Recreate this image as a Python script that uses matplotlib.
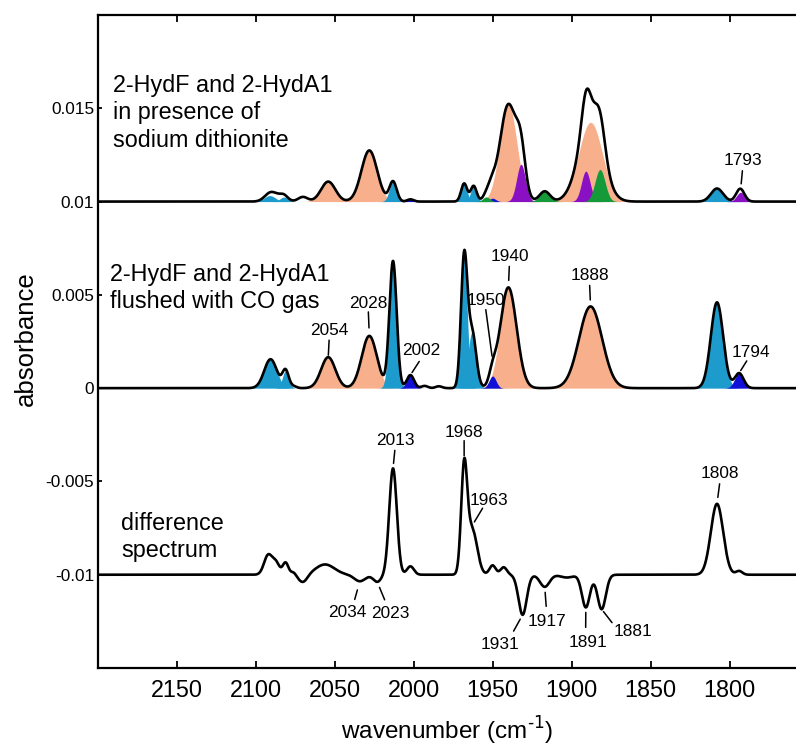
import numpy as np
import matplotlib
matplotlib.use("Agg")
import matplotlib.pyplot as plt

plt.rcParams['font.family'] = ['Liberation Sans', 'DejaVu Sans']

# band parameters: (centre cm-1, height, sigma cm-1)
top_orange = [(2054, 1.07e-3, 4.5), (2028, 2.74e-3, 5.0), (1940, 5.2e-3, 5.4), (1888, 4.25e-3, 7.5)]
top_cyan = [(2091, 0.32e-3, 3.5), (2082, 0.24e-3, 2.5), (2013, 1.07e-3, 2.3),
            (1968, 0.97e-3, 1.9), (1962, 0.84e-3, 1.9), (1808, 0.70e-3, 3.8)]
top_blue = [(2002, 0.12e-3, 2.0), (1950, 0.18e-3, 2.0), (1794, 0.20e-3, 2.5)]
top_purple = [(1932, 2.0e-3, 2.8), (1891, 1.63e-3, 2.8), (1793, 0.50e-3, 2.6)]
top_green = [(1954, 0.25e-3, 2.2), (1917, 0.55e-3, 3.3), (1882, 1.72e-3, 3.2)]
top_other = [(2087, 0.26e-3, 4.5), (2070, 0.25e-3, 3.0), (1951, 0.40e-3, 2.5), (1890, 0.35e-3, 3.0)]

mid_orange = [(2054, 1.66e-3, 4.5), (2028, 2.8e-3, 4.8), (1940, 5.4e-3, 5.2), (1888, 4.38e-3, 7.3)]
mid_cyan = [(2090.5, 1.55e-3, 4.0), (2081, 0.93e-3, 2.0), (2013, 6.8e-3, 2.3),
            (1968, 6.9e-3, 2.0), (1963, 3.0e-3, 2.6), (1808, 4.6e-3, 3.9)]
mid_blue = [(2002, 0.70e-3, 2.3), (1950, 0.65e-3, 2.2), (1794, 0.80e-3, 2.8)]
mid_other = [(2076, 0.10e-3, 2.0), (1993, 0.12e-3, 2.0), (1984, 0.10e-3, 2.0)]

diff_bands = [(2092, 1.05e-3, 2.6), (2087, 0.6e-3, 2.2), (2081, 0.65e-3, 1.8), (2076, 0.15e-3, 1.5),
              (2070, -0.42e-3, 2.8), (2056, 0.55e-3, 6.0), (2034, -0.35e-3, 3.5), (2023, -0.38e-3, 2.5),
              (2013, 5.7e-3, 2.4), (2002, 0.45e-3, 2.2), (1968, 5.5e-3, 1.9), (1963, 2.45e-3, 3.2),
              (1950, 0.5e-3, 2.0), (1943, 0.4e-3, 2.0), (1931, -2.15e-3, 2.6), (1917, -0.65e-3, 3.0),
              (1903, -0.15e-3, 4.0), (1891, -1.75e-3, 2.5), (1881, -1.85e-3, 2.6), (1808, 3.8e-3, 3.9),
              (1794, 0.2e-3, 2.0)]

offsets = [0.01, 0.0, -0.01]

yticks = [0.015, 0.01, 0.005, 0, -0.005, -0.01]
ytick_labels = ['0.015', '0.01', '0.005', '0', '-0.005', '-0.01']
xticks = [2150, 2100, 2050, 2000, 1950, 1900, 1850, 1800]

# peak labels: (wavenumber, dx px, dy px, gap at peak px, gap at text px, line anchor on text)
top_labels = [(1793, 2, 21, 5, 3, 0.5)]
mid_labels = [(2054, 1, 19, 2, 2, 0.5), (2028, -1, 25, 8, 1, 0.5), (2002, 11, 17, 3, 4, 0.5),
              (1950, -7, 52, 4, 1.5, 0.5), (1940, 1, 23, 7, 2, 0.5), (1888, -1, 23, 6.5, 2, 0.5),
              (1794, 12, 13, 3, 1, 0.4)]
diff_labels = [(2013, 2, 20, 5, 2, 0.5), (1968, 0, 19, 3, 1, 0.5), (1963, 17, 18, 4.5, 0.5, 0.34),
               (1808, 3, 23, 6.5, 3, 0.5),
               (2034, -12.5, -24, 9, 6, 0.65), (2023, 13, -24, 6, 6.5, 0.42), (1931, -23, -22, 5, 6.5, 0.78),
               (1917, 2, -27, 5.5, 7.5, 0.5), (1891, 2.5, -28, 5, 8, 0.43), (1881, 31, -15, 3, 2, 0.0)]

colors = {'orange': '#f8b08c', 'cyan': '#1e9bcd', 'blue': '#1010d8',
          'purple': '#8a10c4', 'green': '#159a3a'}

wn = np.linspace(2200, 1757, 3000)


def band(c, h, s):
    return h * np.exp(-0.5 * ((wn - c) / s) ** 2)


def total(*groups):
    y = np.zeros_like(wn)
    for g in groups:
        for c, h, s in g:
            y += band(c, h, s)
    return y


fig = plt.figure(figsize=(7.96, 7.51), dpi=100)
ax = fig.add_axes([97.5 / 796, 83 / 751, 1 - 97.5 / 796 + 0.002, 653 / 751])

top_fills = [('orange', top_orange), ('cyan', top_cyan), ('blue', top_blue),
             ('purple', top_purple), ('green', top_green)]
mid_fills = [('orange', mid_orange), ('cyan', mid_cyan), ('blue', mid_blue)]

for off, fills in [(offsets[0], top_fills), (offsets[1], mid_fills)]:
    for name, group in fills:
        for c, h, s in group:
            ax.fill_between(wn, off, off + band(c, h, s), color=colors[name], lw=0)

top_curve = offsets[0] + total(top_orange, top_cyan, top_blue, top_purple, top_green, top_other)
mid_curve = offsets[1] + total(mid_orange, mid_cyan, mid_blue, mid_other)
diff_curve = offsets[2] + total(diff_bands)

for curve in (top_curve, mid_curve, diff_curve):
    ax.plot(wn, curve, color='black', lw=1.9, solid_joinstyle='round')

for curve, labels in [(top_curve, top_labels), (mid_curve, mid_labels), (diff_curve, diff_labels)]:
    for w, dx, dy, gap_peak, gap_text, rx in labels:
        yv = np.interp(w, wn[::-1], curve[::-1])
        below = dy < 0
        ax.annotate(str(w), xy=(w, yv), xytext=(dx, dy), textcoords='offset pixels',
                    ha='center', va='top' if below else 'bottom', fontsize=12.4,
                    arrowprops=dict(arrowstyle='-', lw=1.1, color='black', patchA=None,
                                    relpos=(rx, 1.0 if below else 0.0),
                                    shrinkA=gap_text * 0.72, shrinkB=gap_peak * 0.72))

ax.text(2190, 0.01686, '2-HydF and 2-HydA1\nin presence of\nsodium dithionite',
        fontsize=16.8, va='top', ha='left', linespacing=1.25)
ax.text(2192, 0.00671, '2-HydF and 2-HydA1\nflushed with CO gas',
        fontsize=16.8, va='top', ha='left', linespacing=1.25)
ax.text(2185, -0.00662, 'difference\nspectrum',
        fontsize=16.8, va='top', ha='left', linespacing=1.25)

ax.set_xlim(2200, 1757)
ax.set_ylim(-0.015, 0.020)
ax.set_xticks(xticks)
ax.set_yticks(yticks)
ax.set_yticklabels(ytick_labels)

ax.spines['right'].set_visible(False)
for side in ('left', 'top', 'bottom'):
    ax.spines[side].set_linewidth(1.6)
ax.tick_params(axis='x', direction='in', top=True, length=5, width=1.3, labelsize=16.8, pad=8)
ax.tick_params(axis='y', direction='in', length=3, width=1.3, labelsize=12.4, pad=2.5)

ax.set_xlabel('wavenumber (cm$^{\\text{-1}}$)', fontsize=17.5)
ax.set_ylabel('absorbance', fontsize=18.5)
ax.xaxis.set_label_coords(0.5, -0.071)
ax.yaxis.set_label_coords(-0.085, 0.505)

fig.savefig('out.png', dpi=100)
